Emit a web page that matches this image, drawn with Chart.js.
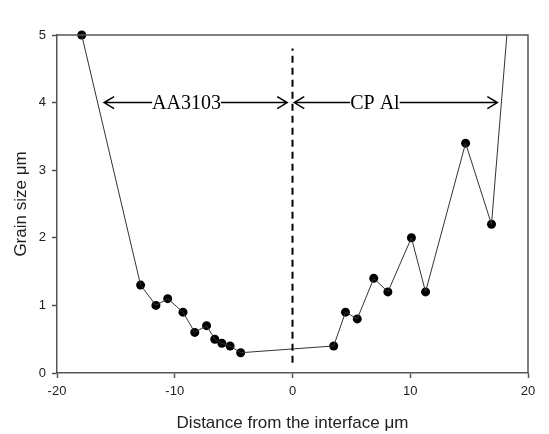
<!DOCTYPE html>
<html>
<head>
<meta charset="utf-8">
<script src="https://cdn.jsdelivr.net/npm/chart.js@4/dist/chart.umd.min.js"></script>
<style>
  html, body { margin: 0; padding: 0; background: #fff; }
  #wrap { width: 549px; height: 434px; }
</style>
</head>
<body>
<div id="wrap"><canvas id="c" width="549" height="434"></canvas></div>
<script>
// Grain size profile across the AA3103 / CP Al interface
const distance = [-17.9, -12.9, -11.6, -10.6, -9.3, -8.3, -7.3, -6.6, -6.0, -5.3, -4.4,
                  3.5, 4.5, 5.5, 6.9, 8.1, 10.1, 11.3, 14.7, 16.9, 19.0];
const grainSize = [5.0, 1.3, 1.0, 1.1, 0.9, 0.6, 0.7, 0.5, 0.44, 0.4, 0.3,
                   0.4, 0.9, 0.8, 1.4, 1.2, 2.0, 1.2, 3.4, 2.2, 6.7];

const xTicks = [-20, -10, 0, 10, 20];
const yTicks = [0, 1, 2, 3, 4, 5];

// interface marker (x = 0) and its vertical extent
const interfaceX = [0, 0];
const interfaceY = [0.15, 4.8];

// region labels with double-headed arrows
const regionNames = ['AA3103', 'CP Al'];
const regionStart = [-16.0, 0.15];
const regionEnd = [-0.45, 17.4];
const regionTextX = [-9.0, 7.0];
const regionY = [4.0, 4.0];

const xMin = xTicks[0], xMax = xTicks[xTicks.length - 1];
const yMin = yTicks[0], yMax = yTicks[yTicks.length - 1];

const profile = distance.map((x, i) => ({ x, y: grainSize[i] }));
const markers = profile.filter(p => p.y <= yMax);
const interfaceLine = interfaceX.map((x, i) => ({ x, y: interfaceY[i] }));

const AXIS = '#555';
const SANS = '"Liberation Sans", Arial, sans-serif';

const frame = {
  id: 'frame',
  afterDatasetsDraw(chart) {
    const { ctx, chartArea: a } = chart;
    ctx.save();
    ctx.strokeStyle = AXIS;
    ctx.lineWidth = 1.5;
    ctx.beginPath();
    ctx.moveTo(a.left, a.top);
    ctx.lineTo(a.right, a.top);
    ctx.lineTo(a.right, a.bottom);
    ctx.stroke();
    ctx.restore();
  }
};

const regionArrows = {
  id: 'regionArrows',
  afterDatasetsDraw(chart) {
    const { ctx } = chart;
    const xs = chart.scales.x, ys = chart.scales.y;
    ctx.save();
    ctx.strokeStyle = '#000';
    ctx.lineWidth = 1.5;
    ctx.font = '20px "Liberation Serif", "Times New Roman", serif';
    ctx.textAlign = 'center';
    ctx.textBaseline = 'middle';
    regionNames.forEach((name, i) => {
      const x0 = xs.getPixelForValue(regionStart[i]);
      const x1 = xs.getPixelForValue(regionEnd[i]);
      const y = ys.getPixelForValue(regionY[i]);
      const h = 10, w = 6;
      ctx.beginPath();
      ctx.moveTo(x0, y); ctx.lineTo(x1, y);
      ctx.moveTo(x0 + h, y - w); ctx.lineTo(x0, y); ctx.lineTo(x0 + h, y + w);
      ctx.moveTo(x1 - h, y - w); ctx.lineTo(x1, y); ctx.lineTo(x1 - h, y + w);
      ctx.stroke();
      const tx = xs.getPixelForValue(regionTextX[i]);
      const tw = ctx.measureText(name).width;
      ctx.fillStyle = '#fff';
      ctx.fillRect(tx - tw / 2, y - 4, tw, 8);
      ctx.fillStyle = '#000';
      ctx.fillText(name, tx, y + 1);
    });
    ctx.restore();
  }
};

new Chart(document.getElementById('c'), {
  type: 'scatter',
  data: {
    datasets: [
      {
        data: interfaceLine,
        showLine: true,
        borderColor: '#000',
        borderWidth: 2,
        borderDash: [7, 5],
        pointRadius: 0,
        clip: false
      },
      {
        data: profile,
        showLine: true,
        borderColor: '#333',
        borderWidth: 1,
        pointRadius: 0
      },
      {
        data: markers,
        showLine: false,
        pointRadius: 4.5,
        pointBackgroundColor: '#000',
        pointBorderColor: '#000',
        pointBorderWidth: 0,
        clip: false
      }
    ]
  },
  options: {
    responsive: false,
    animation: false,
    devicePixelRatio: 1,
    layout: { padding: { top: 35, right: 21, left: 0, bottom: 0 } },
    plugins: { legend: { display: false }, tooltip: { enabled: false } },
    scales: {
      x: {
        type: 'linear',
        min: xMin, max: xMax,
        afterBuildTicks: s => { s.ticks = xTicks.map(v => ({ value: v })); },
        afterFit: s => { s.height = 61; },
        border: { display: true, color: AXIS, width: 1.5 },
        grid: { drawOnChartArea: false, drawTicks: true, tickLength: 5, tickColor: AXIS, tickWidth: 1.5 },
        ticks: { color: '#222', padding: 6, font: { family: SANS, size: 13 } },
        title: {
          display: true,
          text: 'Distance from the interface μm',
          color: '#222',
          padding: { top: 10, bottom: 0 },
          font: { family: SANS, size: 17 }
        }
      },
      y: {
        type: 'linear',
        min: yMin, max: yMax,
        afterBuildTicks: s => { s.ticks = yTicks.map(v => ({ value: v })); },
        afterFit: s => { s.width = 57; },
        border: { display: true, color: AXIS, width: 1.5 },
        grid: { drawOnChartArea: false, drawTicks: true, tickLength: 5, tickColor: AXIS, tickWidth: 1.5 },
        ticks: { color: '#222', padding: 6, font: { family: SANS, size: 13 } },
        title: {
          display: true,
          text: 'Grain size μm',
          color: '#222',
          padding: { top: 11, bottom: 4 },
          font: { family: SANS, size: 17 }
        }
      }
    }
  },
  plugins: [frame, regionArrows]
});
</script>
</body>
</html>
